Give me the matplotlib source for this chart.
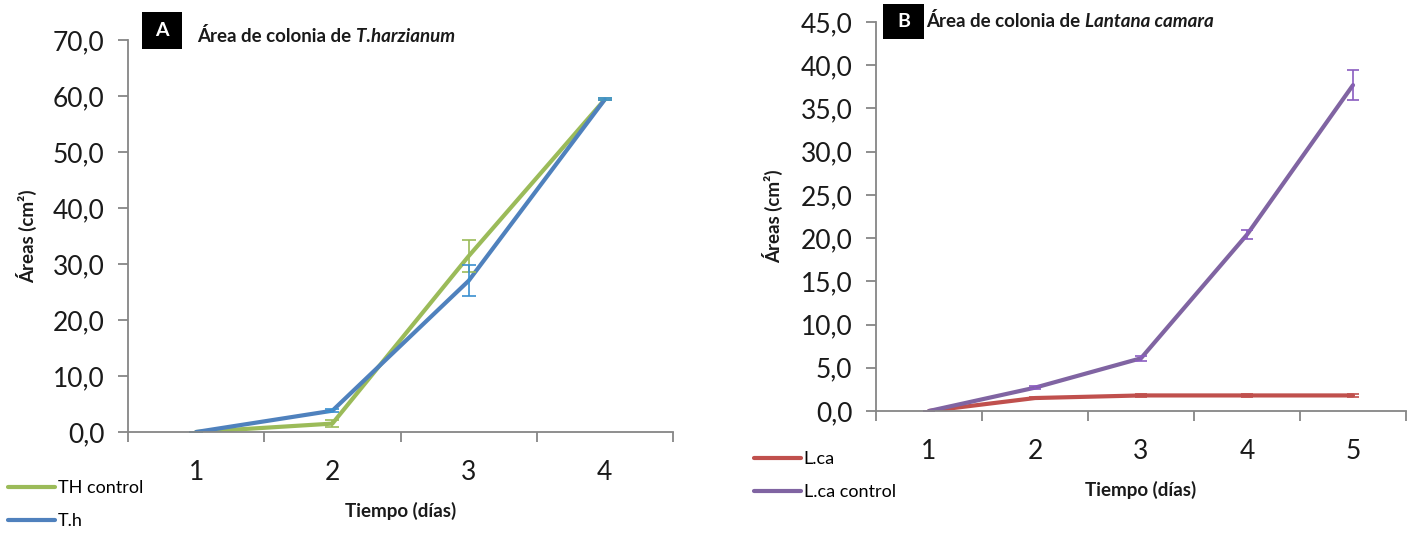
import matplotlib
matplotlib.use("Agg")
import matplotlib.pyplot as plt
from matplotlib.patches import Rectangle

plt.rcParams['font.family'] = ['Lato', 'DejaVu Sans']

# Panel A: colony area of T. harzianum
days_a = [1, 2, 3, 4]
th_control = [0.0, 1.5, 31.4, 59.4]
th_control_err = [0.0, 0.6, 2.9, 0.2]
th = [0.0, 3.8, 27.0, 59.4]
th_err = [0.0, 0.3, 2.75, 0.2]
yticks_a = [0, 10, 20, 30, 40, 50, 60, 70]

# Panel B: colony area of Lantana camara
days_b = [1, 2, 3, 4, 5]
lca = [0.0, 1.5, 1.8, 1.8, 1.8]
lca_err = [0.0, 0.15, 0.2, 0.2, 0.2]
lca_control = [0.0, 2.7, 6.1, 20.4, 37.7]
lca_control_err = [0.0, 0.2, 0.3, 0.5, 1.75]
yticks_b = [0, 5, 10, 15, 20, 25, 30, 35, 40, 45]

GREEN = '#9BBB59'
BLUE = '#4F81BD'
RED = '#C0504D'
PURPLE = '#8064A2'
AXIS_GRAY = '#868686'
TEXT = '#1a1a1a'

W, H = 1407, 533
fig = plt.figure(figsize=(W / 100, H / 100), dpi=100)


def fmt(v):
    return f"{v:.1f}".replace('.', ',')


def style_axis(ax, days, yticks):
    n = len(days)
    ax.set_xlim(days[0] - 0.5, days[-1] + 0.5)
    ax.set_ylim(yticks[0], yticks[-1])
    ax.set_yticks(yticks)
    ax.set_yticklabels([fmt(v) for v in yticks])
    # category boundaries carry the tick marks, centres carry the labels
    ax.set_xticks([d - 0.5 for d in days] + [days[-1] + 0.5])
    ax.set_xticklabels([''] * (n + 1))
    ax.set_xticks(days, minor=True)
    ax.set_xticklabels([str(d) for d in days], minor=True)
    for s in ['top', 'right']:
        ax.spines[s].set_visible(False)
    for s in ['left', 'bottom']:
        ax.spines[s].set_color(AXIS_GRAY)
        ax.spines[s].set_linewidth(1.3)
    ax.tick_params(axis='both', which='major', color=AXIS_GRAY, width=1.3,
                   length=7, labelsize=19, labelcolor=TEXT)
    ax.tick_params(axis='y', pad=10)
    ax.tick_params(axis='x', which='minor', length=0, labelsize=19,
                   pad=20, labelcolor=TEXT)
    ax.set_xlabel('Tiempo (días)', fontsize=13.5, fontweight='bold',
                  labelpad=12, color=TEXT)
    ax.set_ylabel('Áreas (cm²)', fontsize=13.5, fontweight='bold', color=TEXT)


# ---- Panel A ----
ax_a = fig.add_axes([128 / W, 1 - 432 / H, (673 - 128) / W, (432 - 40) / H])
ax_a.plot(days_a, th_control, color=GREEN, lw=3, label='TH control', solid_capstyle='round')
ax_a.plot(days_a, th, color=BLUE, lw=3, label='T.h', solid_capstyle='round')
ax_a.errorbar(days_a, th_control, yerr=th_control_err, fmt='none', ecolor=GREEN,
              elinewidth=1.2, capsize=5, capthick=1.2)
ax_a.errorbar(days_a, th, yerr=th_err, fmt='none', ecolor='#3A8FD0',
              elinewidth=1.2, capsize=5, capthick=1.2)
style_axis(ax_a, days_a, yticks_a)
ax_a.yaxis.set_label_coords(-0.167, 0.5)
ax_a.legend(loc='upper left', bbox_to_anchor=(8 / W, 1 - 480 / H),
            bbox_transform=fig.transFigure, frameon=False, fontsize=13,
            handlelength=2.6, handletextpad=0.15, borderpad=0, borderaxespad=0,
            labelspacing=0.95)

# ---- Panel B ----
ax_b = fig.add_axes([876 / W, 1 - 411 / H, (1406 - 876) / W, (411 - 22) / H])
ax_b.plot(days_b, lca, color=RED, lw=3, label='L.ca', solid_capstyle='round')
ax_b.plot(days_b, lca_control, color=PURPLE, lw=3, label='L.ca control', solid_capstyle='round')
ax_b.errorbar(days_b, lca, yerr=lca_err, fmt='none', ecolor=RED,
              elinewidth=1.2, capsize=4, capthick=1.2)
ax_b.errorbar(days_b, lca_control, yerr=lca_control_err, fmt='none', ecolor='#8A5CC0',
              elinewidth=1.2, capsize=4, capthick=1.2)
style_axis(ax_b, days_b, yticks_b)
ax_b.yaxis.set_label_coords(-0.175, 0.5)
ax_b.legend(loc='upper left', bbox_to_anchor=(754 / W, 1 - 451 / H),
            bbox_transform=fig.transFigure, frameon=False, fontsize=13,
            handlelength=2.6, handletextpad=0.15, borderpad=0, borderaxespad=0,
            labelspacing=0.95)


# ---- Panel titles ----
def add_title(letter, box_px, text_px, plain, italic):
    x0, y0, bw, bh = box_px
    fig.add_artist(Rectangle((x0 / W, 1 - (y0 + bh) / H), bw / W, bh / H,
                             transform=fig.transFigure, facecolor='black',
                             edgecolor='none'))
    fig.text((x0 + bw / 2) / W, 1 - (y0 + bh / 2) / H, letter, color='white',
             fontsize=14, fontweight='bold', ha='center', va='center')
    t = fig.text(text_px[0] / W, 1 - text_px[1] / H, plain, fontsize=13.5,
                 fontweight='bold', ha='left', va='baseline', color=TEXT)
    fig.canvas.draw()
    bb = t.get_window_extent()
    fig.text(bb.x1 / W, 1 - text_px[1] / H, italic, fontsize=13.5,
             fontweight='bold', style='italic', ha='left', va='baseline', color=TEXT)


add_title('A', (142, 12, 40, 37), (197, 42), 'Área de colonia de ', 'T.harzianum')
add_title('B', (883, 4, 41, 35), (926, 27), 'Área de colonia de ', 'Lantana camara')

fig.savefig('out.png', dpi=100)
